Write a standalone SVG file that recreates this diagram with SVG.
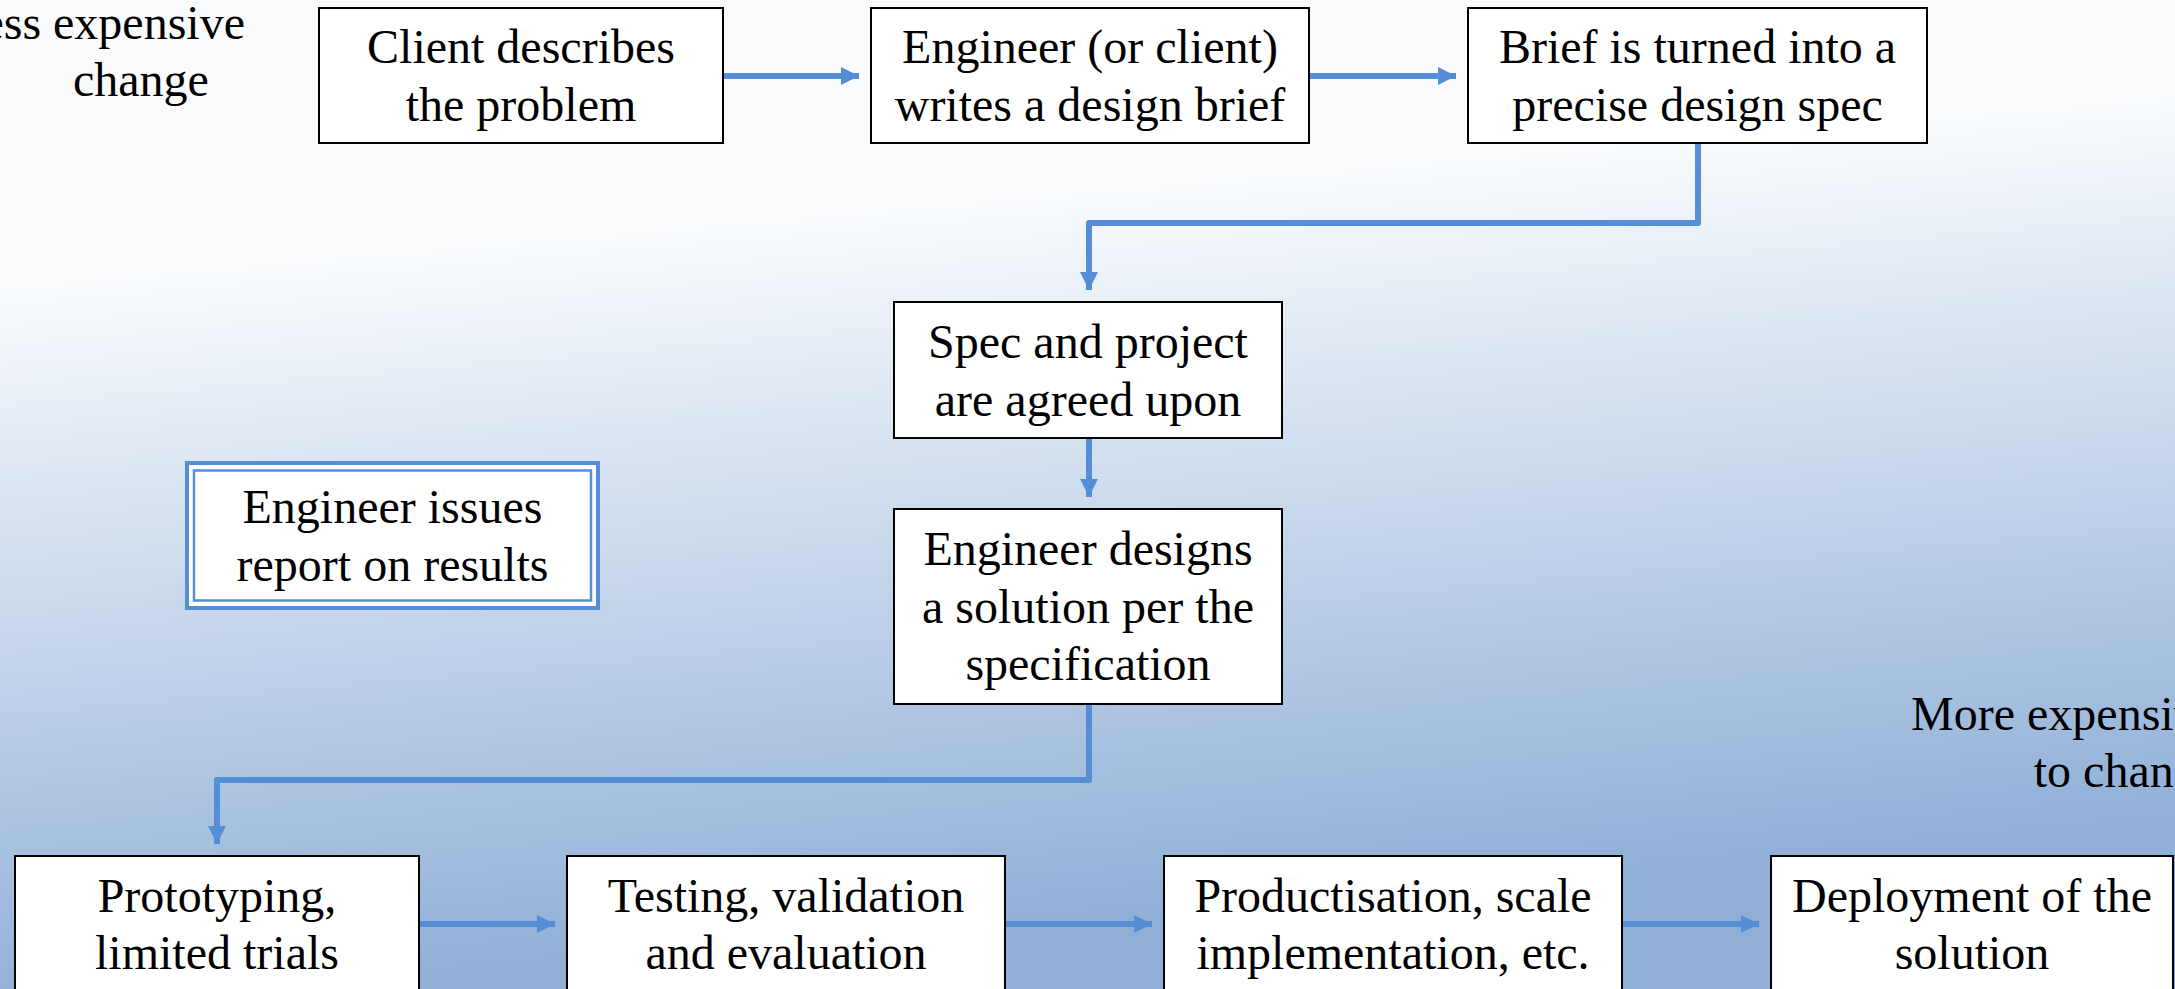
<svg xmlns="http://www.w3.org/2000/svg" width="2175" height="989" viewBox="0 0 2175 989">
<defs>
<linearGradient id="bg" gradientUnits="userSpaceOnUse" x1="25" y1="282" x2="89" y2="1011">
<stop offset="0" stop-color="#f9fbfd"/>
<stop offset="1" stop-color="#8fafd7"/>
</linearGradient>
<marker id="ah" markerUnits="userSpaceOnUse" markerWidth="18" markerHeight="18" refX="18" refY="9" orient="auto">
<path d="M0,0 L18,9 L0,18 z" fill="#558ED5"/>
</marker>
<style>
.box{fill:#ffffff;stroke:#000000;stroke-width:2}
.t{font-family:"Liberation Serif","Times New Roman",serif;font-size:48px;fill:#000000;text-anchor:middle}
.free{font-family:"Liberation Serif","Times New Roman",serif;font-size:48px;fill:#000000}
.c{fill:none;stroke:#558ED5;stroke-width:6;stroke-linejoin:round}
.dbl{fill:#ffffff;stroke:#558ED5}
</style>
</defs>
<rect x="0" y="0" width="2175" height="989" fill="url(#bg)"/>

<g id="label-less">
<text class="free" x="245" y="39" text-anchor="end">Less expensive</text>
<text class="free" x="73" y="96">change</text>
</g>
<g id="label-more">
<text class="free" x="2219" y="730" text-anchor="end">More expensive</text>
<text class="free" x="2219" y="787" text-anchor="end">to change</text>
</g>

<g id="connectors">
<path class="c" d="M723,76 H859" marker-end="url(#ah)"/>
<path class="c" d="M1309,76 H1456" marker-end="url(#ah)"/>
<path class="c" d="M1698,143 V223 H1089 V290" marker-end="url(#ah)"/>
<path class="c" d="M1089,438 V497" marker-end="url(#ah)"/>
<path class="c" d="M1089,704 V780 H217 V844" marker-end="url(#ah)"/>
<path class="c" d="M419,924 H555" marker-end="url(#ah)"/>
<path class="c" d="M1005,924 H1152" marker-end="url(#ah)"/>
<path class="c" d="M1622,924 H1759" marker-end="url(#ah)"/>
</g>

<g id="n-client">
<rect class="box" x="319" y="8" width="404" height="135"/>
<text class="t" x="521" y="63">Client describes</text>
<text class="t" x="521" y="121">the problem</text>
</g>
<g id="n-brief-writer">
<rect class="box" x="871" y="8" width="438" height="135"/>
<text class="t" x="1090" y="63">Engineer (or client)</text>
<text class="t" x="1090" y="121">writes a design brief</text>
</g>
<g id="n-spec">
<rect class="box" x="1468" y="8" width="459" height="135"/>
<text class="t" x="1697.5" y="63">Brief is turned into a</text>
<text class="t" x="1697.5" y="121">precise design spec</text>
</g>
<g id="n-agreed">
<rect class="box" x="894" y="302" width="388" height="136"/>
<text class="t" x="1088" y="358">Spec and project</text>
<text class="t" x="1088" y="416">are agreed upon</text>
</g>
<g id="n-design">
<rect class="box" x="894" y="509" width="388" height="195"/>
<text class="t" x="1088" y="565">Engineer designs</text>
<text class="t" x="1088" y="622.5">a solution per the</text>
<text class="t" x="1088" y="680">specification</text>
</g>
<g id="n-report">
<rect class="dbl" x="187" y="463" width="411" height="145" stroke-width="4"/>
<rect class="dbl" x="194" y="470.5" width="397" height="130" stroke-width="2.5"/>
<text class="t" x="392.5" y="523">Engineer issues</text>
<text class="t" x="392.5" y="581">report on results</text>
</g>
<g id="n-prototype">
<rect class="box" x="15" y="856" width="404" height="136"/>
<text class="t" x="217" y="912">Prototyping,</text>
<text class="t" x="217" y="969">limited trials</text>
</g>
<g id="n-testing">
<rect class="box" x="567" y="856" width="438" height="136"/>
<text class="t" x="786" y="912">Testing, validation</text>
<text class="t" x="786" y="969">and evaluation</text>
</g>
<g id="n-product">
<rect class="box" x="1164" y="856" width="458" height="136"/>
<text class="t" x="1393" y="912">Productisation, scale</text>
<text class="t" x="1393" y="969">implementation, etc.</text>
</g>
<g id="n-deploy">
<rect class="box" x="1771" y="856" width="402" height="136"/>
<text class="t" x="1972" y="912">Deployment of the</text>
<text class="t" x="1972" y="969">solution</text>
</g>
</svg>
